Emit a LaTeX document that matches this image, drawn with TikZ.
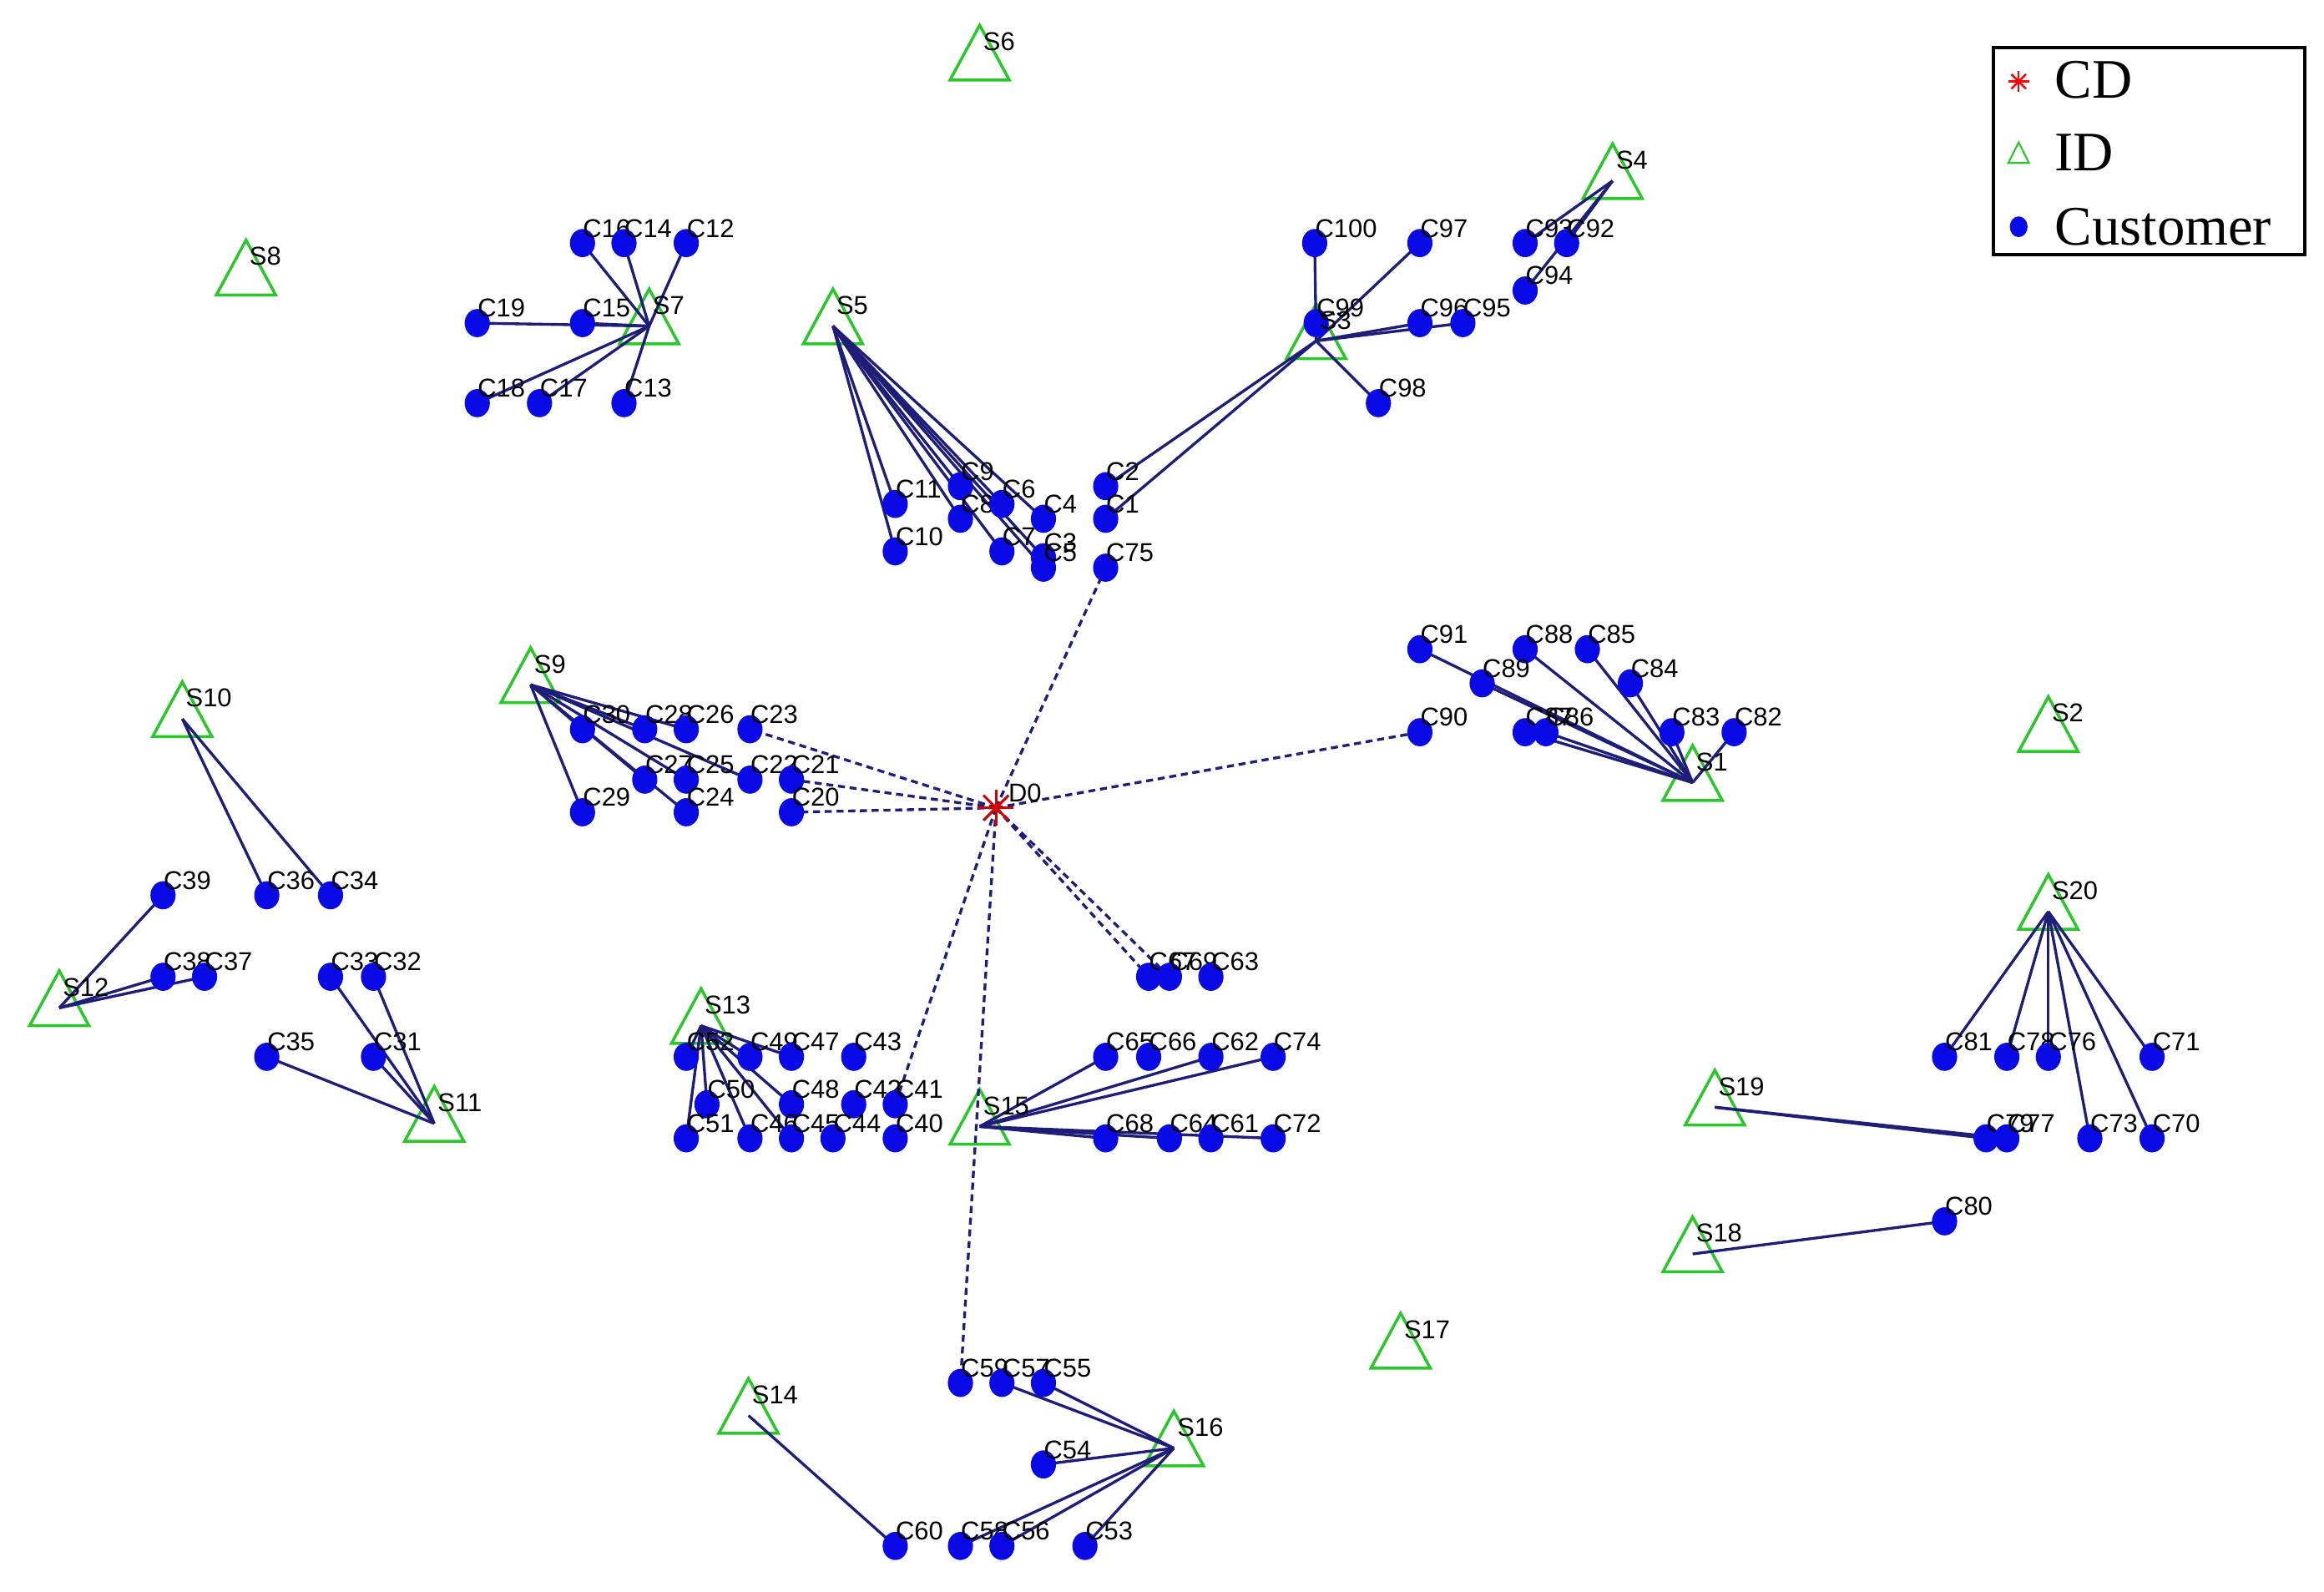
\documentclass[tikz,border=0pt]{standalone}
\usepackage{fontspec}
\setmainfont{Liberation Serif}
\setsansfont{Liberation Sans}
\begin{document}
\begin{tikzpicture}[x=0.017755cm,y=-0.017755cm,
  edge/.style={draw={rgb,255:red,30;green,30;blue,120},line width=0.95pt},
  dedge/.style={edge,dash pattern=on 2.4pt off 1.6pt},
  cust/.style={fill={rgb,255:red,10;green,10;blue,230}},
  tri/.style={draw={rgb,255:red,40;green,200;blue,40},line width=1pt},
  lbl/.style={font=\sffamily\fontsize{8.8}{9}\selectfont,anchor=base west,inner sep=0pt},
  leg/.style={font=\fontsize{19}{21}\selectfont,anchor=west,inner sep=0pt}]
\useasboundingbox (0,0) rectangle (1568,1074);
% depots
\foreach \n/\x/\y in {S1/1142/528,S2/1382/495,S3/888/230,S4/1088/122,S5/562/220,S6/661/42,S7/438/220,S8/166/187,S9/358/462,S10/123/485,S11/293/758,S12/40/680,S13/473/692,S14/505/955,S15/661/760,S16/792/977,S17/945/911,S18/1142/846,S19/1157/747,S20/1382/615}{
  \coordinate (\n) at (\x,\y);
  \draw[tri] (\x,\y-25) -- (\x+20,\y+12) -- (\x-20,\y+12) -- cycle;
}
\coordinate (D0) at (672,545);
% customers
\foreach \n/\x/\y in {C16/393/164,C14/421/164,C12/463/164,C19/322/218,C15/393/218,C18/322/272,C17/364/272,C13/421/272,
C11/604/340,C9/648/328,C8/648/350,C6/676/340,C4/704/350,C7/676/372,C3/704/376,C5/704/383,C10/604/372,
C100/887/164,C97/958/164,C99/888/218,C96/958/218,C95/987/218,C98/930/272,C2/746/328,C1/746/350,C75/746/383,
C93/1029/164,C92/1057/164,C94/1029/196,
C30/393/492,C28/435/492,C26/463/492,C23/506/492,C27/435/526,C25/463/526,C22/506/526,C21/534/526,C29/393/548,C24/463/548,C20/534/548,
C91/958/438,C88/1029/438,C85/1071/438,C89/1000/461,C84/1100/461,C87/1029/494,C86/1043/494,C83/1128/494,C82/1170/494,C90/958/494,
C36/180/604,C34/223/604,C39/110/604,C38/110/659,C37/138/659,C33/223/659,C32/252/659,C35/180/713,C31/252/713,
C67/775/659,C69/789/659,C63/817/659,
C52/463/713,C49/506/713,C47/534/713,C43/576/713,C50/477/745,C48/534/745,C42/576/745,C41/604/745,C51/463/768,C46/506/768,C45/534/768,C44/562/768,C40/604/768,
C65/746/713,C66/775/713,C62/817/713,C74/859/713,C68/746/768,C64/789/768,C61/817/768,C72/859/768,
C81/1312/713,C78/1354/713,C76/1382/713,C71/1452/713,C73/1410/768,C70/1452/768,C79/1340/768,C77/1354/768,C80/1312/824,
C59/648/933,C57/676/933,C55/704/933,C54/704/988,C60/604/1043,C58/648/1043,C56/676/1043,C53/732/1043}{
  \coordinate (\n) at (\x,\y);
}
% routes
\foreach \s/\cs in {S7/{C16,C14,C12,C19,C15,C18,C17,C13},S5/{C11,C9,C8,C6,C4,C7,C3,C5,C10},
S3/{C100,C97,C99,C96,C95,C98,C2,C1},S4/{C93,C92,C94},S9/{C30,C28,C26,C27,C25,C22,C29,C24},
S1/{C91,C89,C88,C85,C84,C83,C82,C87,C86},S10/{C36,C34},S12/{C39,C38,C37},S11/{C33,C32,C35,C31},
S13/{C52,C49,C47,C50,C48,C51,C46,C45},S15/{C65,C62,C74,C68,C64,C72},S20/{C81,C78,C76,C71,C73,C70},
S19/{C79,C77},S18/{C80},S16/{C57,C55,C54,C58,C56,C53},S14/{C60}}{
  \foreach \c in \cs {\draw[edge] (\s) -- (\c);}
}
\foreach \c in {C75,C90,C23,C21,C20,C67,C69,C41,C59}{\draw[dedge] (D0) -- (\c);}
% dots and labels
\foreach \n/\x/\y in {C16/393/164,C14/421/164,C12/463/164,C19/322/218,C15/393/218,C18/322/272,C17/364/272,C13/421/272,
C11/604/340,C9/648/328,C8/648/350,C6/676/340,C4/704/350,C7/676/372,C3/704/376,C5/704/383,C10/604/372,
C100/887/164,C97/958/164,C99/888/218,C96/958/218,C95/987/218,C98/930/272,C2/746/328,C1/746/350,C75/746/383,
C93/1029/164,C92/1057/164,C94/1029/196,
C30/393/492,C28/435/492,C26/463/492,C23/506/492,C27/435/526,C25/463/526,C22/506/526,C21/534/526,C29/393/548,C24/463/548,C20/534/548,
C91/958/438,C88/1029/438,C85/1071/438,C89/1000/461,C84/1100/461,C87/1029/494,C86/1043/494,C83/1128/494,C82/1170/494,C90/958/494,
C36/180/604,C34/223/604,C39/110/604,C38/110/659,C37/138/659,C33/223/659,C32/252/659,C35/180/713,C31/252/713,
C67/775/659,C69/789/659,C63/817/659,
C52/463/713,C49/506/713,C47/534/713,C43/576/713,C50/477/745,C48/534/745,C42/576/745,C41/604/745,C51/463/768,C46/506/768,C45/534/768,C44/562/768,C40/604/768,
C65/746/713,C66/775/713,C62/817/713,C74/859/713,C68/746/768,C64/789/768,C61/817/768,C72/859/768,
C81/1312/713,C78/1354/713,C76/1382/713,C71/1452/713,C73/1410/768,C70/1452/768,C79/1340/768,C77/1354/768,C80/1312/824,
C59/648/933,C57/676/933,C55/704/933,C54/704/988,C60/604/1043,C58/648/1043,C56/676/1043,C53/732/1043}{
  \fill[cust] (\n) ellipse [x radius=8.5,y radius=9.5];
  \node[lbl] (\n-l) at (\x,\y-4) {\n};
}
\foreach \n in {S1,S2,S3,S4,S5,S6,S7,S8,S9,S10,S11,S12,S13,S14,S15,S16,S17,S18,S19,S20}{
  \node[lbl] (\n-l) at ([shift={(2,-8)}]\n) {\n};
}
% central depot
\foreach \a in {0,45,90,135}{\draw[red!85!black,line width=0.9pt] ([shift={(\a:12)}]D0) -- ([shift={(\a+180:12)}]D0);}
\node[lbl] (D0-l) at (680,541) {D0};
% legend
\draw[line width=1.2pt] (1345,32) rectangle (1555,172);
\coordinate (L1) at (1362,55);
\foreach \a in {0,45,90,135}{\draw[red,line width=0.7pt] ([shift={(\a:7)}]L1) -- ([shift={(\a+180:7)}]L1);}
\node[leg] (L1t) at (1386,54) {CD};
\draw[tri,line width=0.6pt] (1362,96) -- (1369,110) -- (1355,110) -- cycle;
\node[leg] (L2t) at (1386,103) {ID};
\fill[cust] (1362,153) ellipse [x radius=6,y radius=7];
\node[leg] (L3t) at (1386,153) {Customer};
\end{tikzpicture}
\end{document}
